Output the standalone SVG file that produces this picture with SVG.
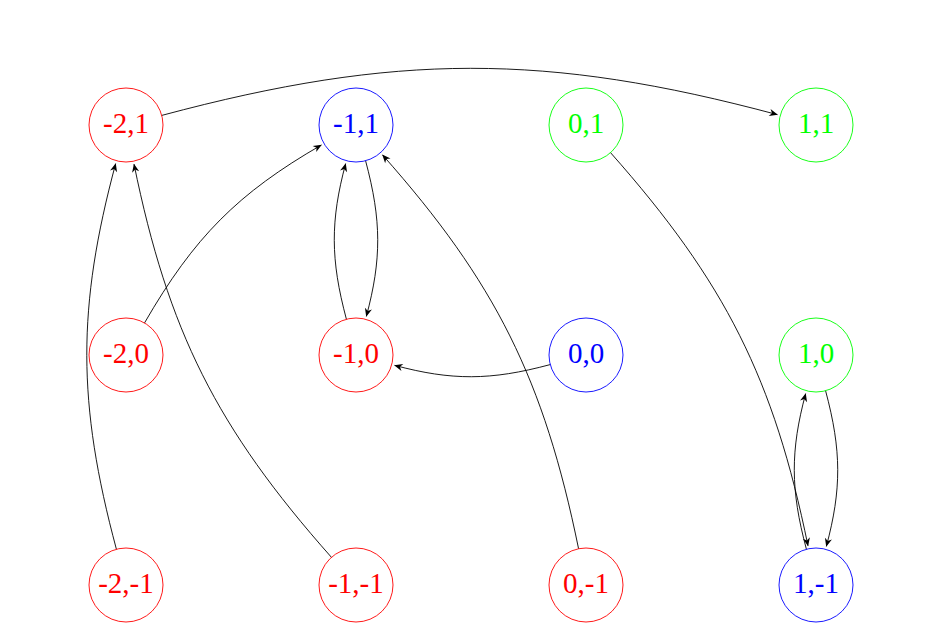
<svg xmlns="http://www.w3.org/2000/svg" width="938" height="635" viewBox="0 0 938 635">
<style>
.node circle{fill:none;stroke-width:0.9}
.node text{font-family:"Liberation Serif","Times New Roman",serif;font-size:29px;text-anchor:middle}
.r circle{stroke:#ff0000}.r text{fill:#ff0000}
.b circle{stroke:#0000ff}.b text{fill:#0000ff}
.g circle{stroke:#00ff00}.g text{fill:#00ff00}
#edges path{fill:none;stroke:#000;stroke-width:0.9;marker-end:url(#arr)}
</style>
<defs>
<marker id="arr" markerUnits="userSpaceOnUse" markerWidth="12" markerHeight="10" viewBox="-10 -5 12 10" refX="0" refY="0" orient="auto">
<path d="M0.5,0 L-8,-3.6 L-5.5,0 L-8,3.6 Z" fill="#000"/>
</marker>
</defs>
<rect width="938" height="635" fill="#fff"/>
<g id="edges">
<path d="M161.74,115.42 C395.64,52.75 546.36,52.75 777.36,114.65"/>
<path d="M144.5,322.96 C194.18,236.91 237.91,193.18 321.36,145"/>
<path d="M346.42,319.26 C330.36,259.31 330.36,220.69 345.65,163.64"/>
<path d="M365.58,160.74 C381.64,220.69 381.64,259.31 366.35,316.36"/>
<path d="M550.26,364.58 C490.31,380.64 451.69,380.64 394.64,365.35"/>
<path d="M578.58,548.75 C543.83,378.91 495.57,282.39 382.54,154.93"/>
<path d="M116.42,549.26 C77.05,402.33 77.05,307.67 115.65,163.64"/>
<path d="M331.45,557.32 C216.43,427.61 168.17,331.09 134.02,164.19"/>
<path d="M610.55,152.68 C725.57,282.39 773.83,378.91 807.98,545.81"/>
<path d="M825.58,390.74 C841.64,450.69 841.64,489.31 826.35,546.36"/>
<path d="M806.42,549.26 C790.36,489.31 790.36,450.69 805.65,393.64"/>
</g>
<g id="n-2_1" class="node r"><circle cx="126" cy="125" r="37"/><text x="126" y="133.3">-2,1</text></g>
<g id="n-1_1" class="node b"><circle cx="356" cy="125" r="37"/><text x="356" y="133.3">-1,1</text></g>
<g id="n0_1" class="node g"><circle cx="586" cy="125" r="37"/><text x="586" y="133.3">0,1</text></g>
<g id="n1_1" class="node g"><circle cx="816" cy="125" r="37"/><text x="816" y="133.3">1,1</text></g>
<g id="n-2_0" class="node r"><circle cx="126" cy="355" r="37"/><text x="126" y="363.3">-2,0</text></g>
<g id="n-1_0" class="node r"><circle cx="356" cy="355" r="37"/><text x="356" y="363.3">-1,0</text></g>
<g id="n0_0" class="node b"><circle cx="586" cy="355" r="37"/><text x="586" y="363.3">0,0</text></g>
<g id="n1_0" class="node g"><circle cx="816" cy="355" r="37"/><text x="816" y="363.3">1,0</text></g>
<g id="n-2_-1" class="node r"><circle cx="126" cy="585" r="37"/><text x="126" y="593.3">-2,-1</text></g>
<g id="n-1_-1" class="node r"><circle cx="356" cy="585" r="37"/><text x="356" y="593.3">-1,-1</text></g>
<g id="n0_-1" class="node r"><circle cx="586" cy="585" r="37"/><text x="586" y="593.3">0,-1</text></g>
<g id="n1_-1" class="node b"><circle cx="816" cy="585" r="37"/><text x="816" y="593.3">1,-1</text></g>
</svg>
